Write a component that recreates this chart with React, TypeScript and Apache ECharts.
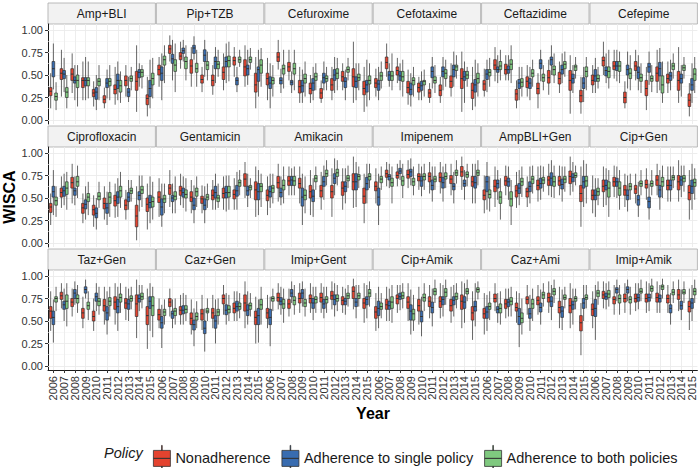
import React, { useEffect, useRef } from "react";
import * as echarts from "echarts";

type Box = number[];

const YEARS = ["2006", "2007", "2008", "2009", "2010", "2011", "2012", "2013", "2014", "2015"];
const POLICIES = ["Nonadherence", "Adherence to single policy", "Adherence to both policies"];
const COLORS = ["#E4432F", "#386CB0", "#7FC97F"];
const FACETS = [
  "Amp+BLI", "Pip+TZB", "Cefuroxime", "Cefotaxime", "Ceftazidime", "Cefepime",
  "Ciprofloxacin", "Gentamicin", "Amikacin", "Imipenem", "AmpBLI+Gen", "Cip+Gen",
  "Taz+Gen", "Caz+Gen", "Imip+Gent", "Cip+Amik", "Caz+Ami", "Imip+Amik",
];
const Y_TICKS = [0, 0.25, 0.5, 0.75, 1];
const Y_MINOR = [0.125, 0.375, 0.625, 0.875];

// each box: [min, q1, median, q3, max]; per facet: [Nonadherence, Single, Both]
const ampBli: Box[][] = [
  [[.13,.27,.32,.36,.52],[.26,.45,.52,.57,.78],[.30,.44,.51,.57,.74],[.22,.36,.44,.47,.65],[.15,.26,.30,.34,.43],[.13,.19,.23,.27,.36],[.17,.29,.34,.39,.59],[.26,.38,.44,.49,.61],[.09,.33,.43,.54,.83],[.04,.17,.24,.28,.48]],
  [[.34,.48,.57,.65,.85],[.31,.46,.51,.55,.69],[.22,.41,.44,.48,.61],[.22,.38,.44,.47,.70],[.11,.23,.31,.36,.50],[.24,.36,.41,.46,.56],[.22,.35,.44,.51,.65],[.20,.26,.31,.35,.48],[.37,.47,.53,.56,.63],[.13,.26,.35,.44,.67]],
  [[.11,.22,.26,.30,.42],[.13,.25,.31,.36,.50],[.15,.36,.44,.50,.61],[.24,.38,.44,.47,.65],[.22,.38,.43,.46,.61],[.22,.38,.43,.46,.61],[.19,.31,.38,.44,.54],[.33,.43,.46,.49,.59],[.35,.48,.53,.56,.61],[.24,.39,.46,.52,.69]],
];
const pipTzb: Box[][] = [
  [[.37,.50,.56,.61,.70],[.65,.74,.79,.83,.94],[.57,.67,.71,.75,.87],[.37,.52,.60,.67,.81],[.31,.41,.45,.50,.59],[.28,.38,.44,.50,.61],[.33,.45,.53,.59,.74],[.48,.61,.66,.70,.81],[.37,.49,.59,.67,.83],[.13,.31,.39,.52,.70]],
  [[.22,.44,.52,.59,.74],[.44,.63,.68,.73,.89],[.65,.74,.77,.80,.89],[.67,.74,.80,.83,.93],[.48,.65,.72,.78,.89],[.41,.57,.65,.70,.81],[.41,.59,.65,.70,.85],[.31,.39,.44,.47,.59],[.39,.50,.57,.61,.78],[.26,.43,.56,.59,.78]],
  [[.41,.61,.67,.71,.83],[.31,.54,.61,.67,.85],[.44,.57,.65,.70,.83],[.37,.53,.57,.63,.78],[.44,.56,.61,.65,.76],[.48,.57,.62,.65,.78],[.43,.59,.66,.71,.87],[.59,.64,.67,.70,.78],[.56,.64,.67,.70,.80],[.37,.52,.61,.67,.80]],
];
const cefuroxime: Box[][] = [
  [[.22,.39,.46,.52,.69],[.56,.65,.70,.75,.89],[.44,.54,.59,.64,.78],[.19,.30,.37,.44,.59],[.19,.29,.35,.41,.50],[.19,.24,.30,.35,.44],[.22,.33,.39,.46,.59],[.33,.43,.48,.54,.63],[.19,.37,.48,.57,.87],[.09,.28,.35,.43,.59]],
  [[.13,.35,.41,.48,.63],[.30,.40,.44,.47,.57],[.30,.39,.42,.44,.54],[.19,.31,.38,.44,.56],[.22,.33,.41,.46,.59],[.33,.41,.47,.52,.65],[.30,.44,.50,.56,.70],[.22,.36,.43,.47,.56],[.22,.36,.43,.48,.63],[.15,.31,.39,.44,.67]],
  [[.26,.40,.44,.47,.61],[.35,.51,.57,.61,.78],[.33,.51,.57,.63,.78],[.26,.41,.46,.51,.65],[.33,.44,.48,.52,.63],[.33,.43,.46,.49,.59],[.33,.46,.52,.57,.69],[.44,.53,.56,.59,.69],[.33,.44,.47,.51,.63],[.22,.40,.44,.49,.63]],
];
const cefotaxime: Box[][] = [
  [[.26,.36,.41,.46,.57],[.48,.57,.64,.70,.85],[.41,.50,.55,.59,.69],[.17,.30,.36,.43,.56],[.22,.31,.36,.41,.48],[.19,.25,.30,.34,.41],[.19,.27,.33,.39,.48],[.26,.36,.43,.49,.63],[.09,.35,.46,.57,.76],[.11,.24,.33,.41,.59]],
  [[.22,.33,.40,.44,.59],[.37,.44,.50,.54,.63],[.33,.44,.49,.54,.63],[.15,.28,.34,.41,.52],[.22,.33,.38,.43,.54],[.35,.47,.54,.59,.70],[.33,.48,.54,.59,.70],[.37,.48,.56,.61,.76],[.19,.44,.48,.54,.65],[.15,.31,.39,.45,.67]],
  [[.35,.44,.49,.53,.65],[.33,.44,.49,.54,.74],[.26,.43,.48,.54,.67],[.26,.39,.44,.47,.59],[.26,.39,.43,.44,.56],[.30,.41,.44,.48,.61],[.37,.46,.52,.56,.67],[.46,.55,.59,.61,.72],[.37,.46,.50,.54,.59],[.26,.41,.46,.52,.63]],
];
const ceftazidime: Box[][] = [
  [[.26,.33,.40,.44,.57],[.43,.56,.61,.67,.81],[.44,.51,.56,.62,.72],[.13,.22,.29,.34,.44],[.26,.36,.43,.48,.61],[.13,.29,.35,.41,.52],[.28,.41,.47,.55,.67],[.30,.40,.46,.53,.65],[.07,.33,.44,.55,.72],[.07,.20,.27,.33,.48]],
  [[.31,.45,.51,.56,.67],[.41,.53,.56,.59,.72],[.44,.52,.56,.60,.72],[.22,.35,.41,.45,.59],[.22,.35,.41,.46,.59],[.43,.57,.63,.67,.78],[.50,.61,.67,.70,.83],[.41,.51,.56,.61,.74],[.30,.41,.46,.51,.61],[.20,.35,.41,.47,.59]],
  [[.37,.49,.53,.56,.69],[.44,.56,.60,.65,.78],[.41,.56,.62,.67,.83],[.26,.37,.42,.46,.59],[.37,.48,.52,.56,.67],[.33,.43,.47,.51,.61],[.41,.50,.56,.60,.74],[.48,.57,.62,.65,.76],[.46,.55,.59,.61,.70],[.33,.48,.54,.59,.70]],
];
const cefepime: Box[][] = [
  [[.30,.39,.44,.50,.61],[.50,.60,.66,.70,.87],[.46,.56,.60,.65,.78],[.13,.19,.25,.31,.43],[.44,.55,.60,.65,.78],[.11,.27,.35,.44,.59],[.30,.43,.52,.59,.78],[.30,.41,.46,.51,.65],[.19,.33,.44,.54,.81],[.04,.15,.22,.29,.41]],
  [[.30,.43,.49,.56,.69],[.41,.49,.55,.59,.74],[.43,.55,.60,.65,.78],[.35,.50,.56,.61,.76],[.33,.46,.53,.59,.72],[.39,.53,.59,.63,.76],[.33,.49,.57,.64,.80],[.33,.44,.49,.53,.67],[.26,.41,.46,.51,.61],[.19,.33,.39,.46,.63]],
  [[.35,.43,.46,.50,.59],[.35,.47,.54,.59,.78],[.41,.54,.60,.65,.76],[.33,.46,.52,.57,.72],[.30,.43,.47,.51,.63],[.31,.43,.46,.49,.61],[.19,.30,.39,.49,.65],[.46,.56,.60,.63,.74],[.46,.55,.58,.61,.70],[.30,.44,.51,.57,.70]],
];
const ciprofloxacin: Box[][] = [
  [[.20,.34,.40,.44,.55],[.39,.51,.56,.61,.74],[.44,.61,.67,.73,.88],[.22,.33,.39,.44,.55],[.18,.31,.37,.42,.53],[.26,.38,.44,.50,.63],[.28,.41,.47,.53,.66],[.26,.37,.42,.48,.59],[.03,.18,.30,.42,.63],[.15,.35,.43,.50,.66]],
  [[.31,.51,.57,.63,.81],[.42,.52,.58,.63,.77],[.42,.53,.58,.61,.74],[.26,.38,.43,.48,.63],[.15,.28,.33,.39,.50],[.20,.33,.39,.44,.57],[.29,.44,.51,.57,.72],[.37,.46,.51,.56,.70],[.35,.48,.53,.57,.75],[.22,.39,.45,.53,.74]],
  [[.29,.42,.47,.51,.63],[.37,.54,.61,.68,.79],[.50,.63,.68,.74,.86],[.31,.46,.51,.55,.68],[.39,.48,.52,.56,.68],[.29,.44,.51,.56,.68],[.39,.51,.58,.63,.79],[.46,.55,.58,.61,.70],[.40,.55,.59,.63,.75],[.26,.40,.46,.51,.68]],
];
const gentamicin: Box[][] = [
  [[.29,.45,.51,.57,.72],[.40,.54,.61,.65,.81],[.42,.53,.58,.63,.77],[.33,.46,.51,.57,.70],[.33,.44,.49,.52,.64],[.37,.48,.53,.59,.70],[.37,.50,.55,.61,.74],[.37,.49,.54,.59,.72],[.50,.63,.71,.77,.90],[.29,.48,.59,.68,.85]],
  [[.18,.31,.40,.49,.66],[.33,.46,.50,.53,.66],[.39,.51,.56,.61,.74],[.22,.37,.42,.50,.64],[.22,.37,.42,.49,.63],[.37,.50,.56,.63,.77],[.35,.50,.56,.63,.75],[.37,.52,.58,.64,.79],[.40,.53,.58,.63,.77],[.31,.48,.57,.66,.81]],
  [[.33,.45,.49,.53,.66],[.33,.48,.52,.57,.74],[.35,.50,.54,.59,.72],[.40,.52,.57,.61,.74],[.39,.48,.51,.54,.66],[.39,.46,.50,.53,.66],[.37,.51,.56,.63,.75],[.53,.63,.67,.70,.81],[.50,.59,.62,.64,.72],[.40,.57,.63,.66,.77]],
];
const amikacin: Box[][] = [
  [[.31,.47,.53,.59,.74],[.46,.61,.67,.74,.88],[.53,.64,.69,.74,.85],[.44,.61,.66,.72,.85],[.31,.50,.57,.64,.81],[.37,.51,.58,.64,.79],[.29,.50,.57,.64,.83],[.37,.53,.61,.68,.83],[.39,.59,.68,.77,.96],[.22,.44,.52,.61,.77]],
  [[.39,.51,.57,.63,.77],[.42,.51,.56,.61,.74],[.53,.64,.70,.74,.83],[.20,.41,.51,.61,.77],[.29,.46,.52,.59,.72],[.48,.63,.68,.74,.86],[.53,.66,.72,.77,.94],[.44,.57,.63,.68,.83],[.40,.59,.68,.77,.90],[.44,.59,.66,.73,.88]],
  [[.44,.56,.61,.64,.77],[.44,.59,.64,.70,.85],[.53,.64,.69,.74,.85],[.33,.48,.53,.59,.74],[.59,.68,.72,.75,.85],[.64,.74,.77,.81,.92],[.64,.74,.78,.82,.92],[.61,.69,.72,.75,.86],[.61,.70,.74,.76,.85],[.61,.70,.74,.77,.88]],
];
const imipenem: Box[][] = [
  [[.44,.58,.63,.68,.83],[.63,.73,.77,.81,.90],[.63,.72,.75,.79,.88],[.61,.72,.76,.81,.92],[.59,.69,.74,.77,.88],[.55,.68,.74,.78,.90],[.55,.68,.73,.78,.90],[.53,.66,.71,.75,.88],[.59,.74,.79,.85,.96],[.44,.63,.68,.74,.88]],
  [[.20,.42,.51,.61,.77],[.61,.70,.74,.76,.88],[.70,.77,.80,.83,.92],[.64,.74,.79,.82,.94],[.52,.63,.69,.74,.85],[.46,.59,.64,.70,.85],[.46,.61,.67,.73,.85],[.44,.59,.63,.66,.79],[.48,.63,.66,.70,.81],[.44,.61,.67,.74,.88]],
  [[.59,.67,.71,.74,.85],[.44,.63,.67,.72,.85],[.50,.64,.69,.74,.88],[.53,.64,.68,.72,.85],[.59,.70,.74,.77,.88],[.59,.68,.71,.74,.85],[.61,.71,.74,.78,.88],[.66,.75,.78,.81,.92],[.63,.73,.76,.79,.88],[.64,.75,.78,.81,.92]],
];
const ampBliGen: Box[][] = [
  [[.33,.48,.53,.59,.75],[.40,.57,.63,.70,.85],[.53,.64,.69,.74,.86],[.39,.51,.58,.64,.79],[.40,.51,.57,.61,.74],[.46,.59,.64,.70,.85],[.53,.64,.70,.74,.88],[.53,.64,.69,.74,.86],[.53,.66,.74,.80,.96],[.18,.46,.55,.64,.85]],
  [[.37,.57,.68,.74,.90],[.48,.61,.66,.70,.81],[.48,.63,.68,.72,.85],[.42,.55,.61,.66,.81],[.44,.57,.63,.68,.85],[.48,.61,.66,.72,.86],[.51,.64,.72,.78,.92],[.46,.60,.65,.71,.85],[.57,.68,.73,.77,.90],[.40,.61,.68,.74,.92]],
  [[.35,.50,.54,.59,.74],[.26,.44,.51,.57,.72],[.20,.41,.49,.57,.70],[.51,.64,.68,.72,.85],[.55,.66,.71,.74,.86],[.57,.66,.70,.73,.85],[.50,.63,.68,.74,.86],[.57,.67,.71,.74,.85],[.64,.73,.75,.78,.86],[.44,.63,.69,.74,.88]],
];
const cipGen: Box[][] = [
  [[.33,.48,.53,.59,.75],[.40,.57,.63,.70,.85],[.51,.63,.68,.73,.86],[.40,.53,.59,.64,.77],[.44,.55,.60,.64,.77],[.48,.61,.65,.70,.83],[.53,.64,.70,.75,.88],[.46,.59,.64,.70,.85],[.46,.59,.68,.75,.92],[.26,.48,.56,.64,.81]],
  [[.29,.48,.53,.59,.72],[.42,.59,.64,.70,.83],[.50,.63,.68,.72,.85],[.35,.48,.53,.59,.75],[.29,.42,.48,.53,.68],[.26,.39,.46,.51,.66],[.37,.51,.59,.64,.81],[.46,.59,.64,.70,.85],[.51,.64,.70,.74,.86],[.37,.55,.63,.70,.88]],
  [[.42,.53,.57,.61,.72],[.29,.51,.61,.68,.81],[.37,.53,.61,.68,.81],[.48,.59,.63,.66,.77],[.53,.63,.66,.69,.81],[.53,.63,.66,.69,.81],[.50,.63,.68,.73,.86],[.61,.70,.73,.75,.85],[.57,.68,.72,.75,.86],[.48,.63,.67,.71,.83]],
];
const tazGen: Box[][] = [
  [[.39,.53,.61,.66,.83],[.64,.74,.78,.82,.92],[.55,.66,.71,.75,.86],[.42,.53,.59,.64,.77],[.39,.50,.55,.61,.75],[.46,.61,.67,.74,.88],[.46,.63,.71,.77,.92],[.51,.64,.70,.75,.88],[.31,.55,.69,.79,.96],[.19,.46,.56,.66,.86]],
  [[.26,.46,.54,.61,.74],[.50,.63,.68,.72,.86],[.68,.75,.81,.85,.94],[.75,.81,.85,.88,.96],[.61,.72,.77,.81,.92],[.35,.51,.59,.66,.83],[.39,.59,.66,.74,.88],[.50,.63,.69,.74,.86],[.61,.71,.75,.79,.90],[.39,.64,.72,.77,.92]],
  [[.61,.71,.75,.77,.88],[.44,.64,.72,.79,.92],[.59,.70,.75,.79,.90],[.51,.63,.67,.71,.83],[.57,.67,.72,.75,.88],[.55,.67,.72,.76,.88],[.59,.71,.76,.80,.92],[.63,.72,.75,.78,.88],[.64,.74,.77,.81,.90],[.32,.56,.67,.77,.88]],
];
const cazGen: Box[][] = [
  [[.42,.51,.57,.63,.75],[.55,.66,.71,.75,.86],[.46,.57,.62,.66,.79],[.35,.46,.53,.59,.74],[.40,.51,.58,.63,.79],[.42,.53,.59,.64,.79],[.57,.69,.75,.79,.90],[.50,.59,.64,.70,.83],[.42,.61,.70,.79,.94],[.25,.46,.54,.61,.77]],
  [[.20,.42,.48,.55,.68],[.42,.53,.58,.61,.74],[.46,.58,.62,.67,.81],[.22,.40,.46,.51,.64],[.16,.36,.42,.50,.64],[.25,.42,.50,.56,.74],[.46,.57,.62,.68,.81],[.50,.61,.66,.72,.83],[.46,.56,.62,.68,.83],[.26,.46,.56,.64,.74]],
  [[.46,.56,.60,.63,.74],[.46,.56,.61,.64,.75],[.50,.59,.63,.67,.79],[.42,.51,.55,.59,.72],[.50,.59,.61,.64,.75],[.46,.56,.60,.63,.75],[.50,.59,.63,.67,.79],[.53,.63,.66,.70,.81],[.55,.63,.67,.70,.81],[.46,.63,.68,.74,.88]],
];
const imipGent: Box[][] = [
  [[.42,.53,.59,.64,.79],[.63,.72,.76,.81,.92],[.55,.64,.69,.74,.86],[.59,.70,.75,.81,.92],[.59,.70,.75,.79,.92],[.59,.71,.76,.81,.92],[.63,.74,.78,.83,.94],[.59,.68,.73,.77,.88],[.63,.75,.83,.88,.97],[.48,.64,.70,.75,.92]],
  [[.22,.46,.54,.63,.77],[.57,.68,.72,.76,.88],[.70,.77,.81,.85,.94],[.66,.75,.81,.85,.94],[.51,.64,.70,.75,.88],[.53,.64,.69,.74,.88],[.55,.68,.74,.79,.92],[.57,.68,.72,.75,.86],[.53,.66,.71,.75,.90],[.53,.68,.74,.77,.90]],
  [[.61,.72,.75,.77,.86],[.48,.64,.69,.74,.86],[.57,.68,.73,.77,.90],[.55,.66,.70,.74,.86],[.59,.70,.74,.77,.88],[.59,.70,.74,.77,.88],[.61,.72,.75,.79,.90],[.66,.75,.78,.81,.90],[.66,.75,.78,.81,.90],[.66,.77,.81,.85,.94]],
];
const cipAmik: Box[][] = [
  [[.39,.53,.60,.66,.81],[.50,.63,.68,.74,.88],[.59,.69,.75,.79,.90],[.50,.64,.71,.77,.92],[.46,.61,.67,.74,.88],[.53,.66,.72,.77,.90],[.53,.65,.72,.77,.92],[.48,.61,.67,.74,.88],[.42,.63,.72,.79,.94],[.29,.51,.59,.66,.83]],
  [[.42,.56,.64,.72,.88],[.50,.63,.67,.72,.86],[.62,.74,.77,.81,.90],[.35,.51,.61,.68,.85],[.33,.49,.55,.61,.77],[.44,.59,.65,.71,.86],[.55,.68,.74,.77,.90],[.55,.68,.73,.77,.90],[.48,.64,.71,.77,.92],[.44,.61,.66,.72,.92]],
  [[.53,.63,.66,.70,.81],[.48,.64,.71,.77,.90],[.64,.75,.78,.82,.92],[.39,.51,.58,.63,.79],[.61,.72,.76,.80,.92],[.70,.79,.83,.86,.96],[.68,.77,.82,.86,.96],[.64,.74,.77,.81,.92],[.72,.80,.83,.86,.96],[.74,.82,.85,.87,.94]],
];
const cazAmi: Box[][] = [
  [[.35,.53,.58,.64,.81],[.61,.71,.75,.80,.92],[.53,.64,.69,.74,.86],[.48,.61,.65,.70,.83],[.57,.69,.74,.77,.90],[.57,.68,.73,.77,.90],[.59,.71,.76,.81,.94],[.42,.59,.65,.72,.88],[.42,.59,.67,.75,.92],[.12,.39,.48,.56,.70]],
  [[.39,.53,.60,.66,.79],[.48,.59,.63,.66,.81],[.55,.66,.71,.74,.86],[.21,.46,.55,.64,.81],[.39,.53,.58,.64,.79],[.46,.60,.65,.70,.85],[.51,.66,.72,.77,.90],[.40,.54,.61,.66,.85],[.46,.63,.68,.72,.86],[.50,.64,.70,.75,.90]],
  [[.51,.63,.66,.70,.83],[.46,.59,.64,.69,.83],[.55,.68,.72,.76,.88],[.35,.48,.53,.59,.75],[.50,.64,.69,.74,.86],[.66,.75,.79,.82,.92],[.70,.79,.83,.86,.96],[.64,.74,.76,.79,.88],[.63,.72,.75,.77,.86],[.64,.74,.76,.79,.90]],
];
const imipAmik: Box[][] = [
  [[.42,.56,.63,.69,.83],[.64,.75,.79,.83,.94],[.57,.69,.74,.77,.90],[.59,.71,.75,.80,.92],[.61,.71,.75,.80,.92],[.59,.71,.75,.80,.94],[.59,.71,.76,.81,.94],[.59,.70,.75,.79,.90],[.61,.74,.79,.85,.96],[.40,.60,.66,.72,.86]],
  [[.29,.55,.64,.74,.90],[.63,.74,.77,.81,.92],[.72,.81,.85,.87,.96],[.72,.81,.85,.88,.96],[.63,.72,.76,.80,.92],[.61,.72,.76,.80,.92],[.59,.71,.75,.79,.90],[.46,.59,.64,.68,.81],[.51,.63,.67,.72,.85],[.50,.64,.70,.75,.90]],
  [[.68,.77,.81,.84,.94],[.66,.76,.80,.84,.94],[.57,.70,.75,.79,.90],[.57,.70,.74,.77,.88],[.72,.81,.83,.86,.96],[.75,.83,.86,.89,.97],[.75,.85,.88,.90,.97],[.70,.79,.82,.85,.94],[.70,.80,.82,.85,.94],[.70,.79,.83,.86,.96]],
];

const FACET_DATA: Box[][][] = [
  ampBli, pipTzb, cefuroxime, cefotaxime, ceftazidime, cefepime,
  ciprofloxacin, gentamicin, amikacin, imipenem, ampBliGen, cipGen,
  tazGen, cazGen, imipGent, cipAmik, cazAmi, imipAmik,
];

const FONT = '"Liberation Sans", Arial, Helvetica, sans-serif';
const PANEL_LEFT = 48;
const STEP_X = 108.4;
const PANEL_W = 107.4;
const PANEL_TOP = 24;
const STEP_Y = 123;
const PANEL_H = 100;
const STRIP_H = 21;
const Y_MIN = -0.0444;
const Y_MAX = 1.0667;
const EDGE = "#333333";

const KEY_PATH =
  "path://M8.2 0H8.8V5H8.2Z M0 5H17V13H0Z M0 13H17V21H0Z M8.2 21H8.8V26H8.2Z";

function makeRenderItem(k: number, color: string) {
  return (_params: any, api: any) => {
    const xi = api.value(0);
    const band = api.size([1, 0])[0];
    const w = (band * 0.75) / 3;
    const off = (k - 1) * w;
    const pMin = api.coord([xi, api.value(1)]);
    const pQ1 = api.coord([xi, api.value(2)]);
    const pMed = api.coord([xi, api.value(3)]);
    const pQ3 = api.coord([xi, api.value(4)]);
    const pMax = api.coord([xi, api.value(5)]);
    const cx = pMin[0] + off;
    return {
      type: "group",
      children: [
        {
          type: "line",
          shape: { x1: cx, y1: pMax[1], x2: cx, y2: pMin[1] },
          style: { stroke: EDGE, lineWidth: 0.75 },
        },
        {
          type: "rect",
          shape: { x: cx - w / 2, y: pQ3[1], width: w, height: pQ1[1] - pQ3[1] },
          style: { fill: color, stroke: EDGE, lineWidth: 0.7 },
        },
        {
          type: "line",
          shape: { x1: cx - w / 2, y1: pMed[1], x2: cx + w / 2, y2: pMed[1] },
          style: { stroke: EDGE, lineWidth: 1 },
        },
      ],
    };
  };
}

export default function App() {
  const ref = useRef<HTMLDivElement>(null);

  useEffect(() => {
    document.body.style.margin = "0";
    if (!ref.current) return;
    const chart = echarts.init(ref.current, undefined, { renderer: "svg" });

    const grids: any[] = [];
    const xAxes: any[] = [];
    const yAxes: any[] = [];
    const series: any[] = [];
    const graphics: any[] = [];

    const major = { color: "#EBEBEB", width: 0.9, type: "solid" };
    const minor = { color: "#F4F4F4", width: 0.6, type: "solid" };

    FACETS.forEach((name, i) => {
      const r = Math.floor(i / 6);
      const c = i % 6;
      const left = PANEL_LEFT + c * STEP_X;
      const top = PANEL_TOP + r * STEP_Y;
      grids.push({ left, top, width: PANEL_W, height: PANEL_H, containLabel: false });
      xAxes.push({
        type: "category",
        gridIndex: i,
        data: YEARS,
        boundaryGap: true,
        axisLine: { show: r === 2, onZero: false, lineStyle: { color: "#1A1A1A", width: 1 } },
        axisTick: { show: r === 2, alignWithLabel: true, length: 3, lineStyle: { color: "#333" } },
        axisLabel: {
          show: r === 2, rotate: 90, interval: 0, margin: 6,
          fontSize: 11, color: "#333", fontFamily: FONT,
        },
        splitLine: { show: false },
      });
      yAxes.push({
        type: "value",
        gridIndex: i,
        min: Y_MIN,
        max: Y_MAX,
        axisLine: { show: c === 0, onZero: false, lineStyle: { color: "#1A1A1A", width: 1 } },
        axisTick: { show: c === 0, length: 3, customValues: Y_TICKS, lineStyle: { color: "#333" } },
        axisLabel: {
          show: c === 0, customValues: Y_TICKS, margin: 5,
          formatter: (v: number) => v.toFixed(2),
          fontSize: 11, color: "#333", fontFamily: FONT,
        },
        splitLine: { show: false },
        ...(i === 6
          ? {
              name: "WISCA",
              nameLocation: "middle",
              nameGap: 27,
              nameTextStyle: { fontWeight: "bold", fontSize: 16, color: "#000", fontFamily: FONT },
            }
          : {}),
      });
      POLICIES.forEach((p, k) => {
        series.push({
          type: "custom",
          name: p,
          xAxisIndex: i,
          yAxisIndex: i,
          data: FACET_DATA[i][k].map((b, j) => [j, ...b]),
          encode: { x: 0, y: [1, 2, 3, 4, 5] },
          renderItem: makeRenderItem(k, COLORS[k]),
          silent: true,
          z: 2,
          itemStyle: { color: COLORS[k] },
          ...(k === 0
            ? {
                markLine: {
                  silent: true,
                  z: 1,
                  symbol: ["none", "none"],
                  label: { show: false },
                  emphasis: { disabled: true },
                  animation: false,
                  data: [
                    ...Y_MINOR.map((v) => ({ yAxis: v, lineStyle: minor })),
                    ...Y_TICKS.map((v) => ({ yAxis: v, lineStyle: major })),
                    ...YEARS.map((y) => ({ xAxis: y, lineStyle: major })),
                  ],
                },
              }
            : {}),
        });
      });
      graphics.push({
        type: "rect",
        shape: { x: left, y: top - STRIP_H, width: PANEL_W, height: STRIP_H },
        style: { fill: "#F2F2F2", stroke: "#A9A9A9", lineWidth: 0.8 },
        silent: true,
      });
      graphics.push({
        type: "text",
        x: left + PANEL_W / 2,
        y: top - STRIP_H / 2,
        style: {
          text: name, fill: "#1A1A1A", fontSize: 12, fontFamily: FONT,
          align: "center", verticalAlign: "middle",
        },
        silent: true,
      });
    });

    graphics.push({
      type: "text",
      x: 373,
      y: 413,
      style: {
        text: "Year", fill: "#000", fontSize: 16, fontWeight: "bold", fontFamily: FONT,
        align: "center", verticalAlign: "middle",
      },
      silent: true,
    });
    graphics.push({
      type: "text",
      x: 104,
      y: 453,
      style: {
        text: "Policy", fill: "#1A1A1A", fontSize: 14.5, fontStyle: "italic", fontFamily: FONT,
        align: "left", verticalAlign: "middle",
      },
      silent: true,
    });

    chart.setOption({
      animation: false,
      textStyle: { fontFamily: FONT },
      grid: grids,
      xAxis: xAxes,
      yAxis: yAxes,
      series,
      graphic: graphics,
      legend: {
        left: 148,
        top: 440,
        orient: "horizontal",
        itemWidth: 17,
        itemHeight: 26,
        itemGap: 11,
        symbolKeepAspect: false,
        selectedMode: false,
        textStyle: { fontSize: 14.5, color: "#1A1A1A", fontFamily: FONT },
        data: POLICIES.map((n, k) => ({
          name: n,
          icon: KEY_PATH,
          itemStyle: { color: COLORS[k], borderColor: EDGE, borderWidth: 0.8 },
        })),
      },
    });

    return () => chart.dispose();
  }, []);

  return <div ref={ref} style={{ width: 700, height: 468 }} />;
}
